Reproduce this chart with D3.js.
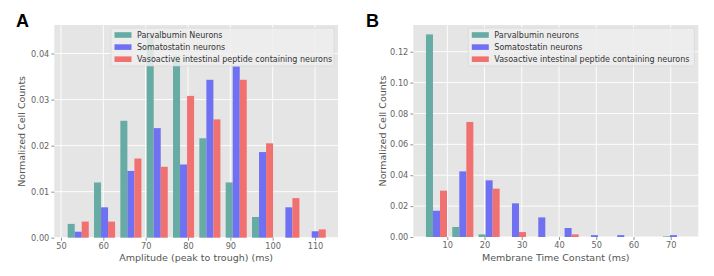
<!DOCTYPE html>
<html>
<head>
<meta charset="utf-8">
<script src="https://cdn.jsdelivr.net/npm/d3@7"></script>
<style>
  body { margin: 0; background: #fff; }
  svg { display: block; }
</style>
</head>
<body>
<div id="chartContainer"></div>
<script>
// Series names and colours
const seriesA = ["Parvalbumin Neurons", "Somatostatin neurons", "Vasoactive intestinal peptide containing neurons"];
const seriesB = ["Parvalbumin neurons", "Somatostatin neurons", "Vasoactive intestinal peptide containing neurons"];
const colors = ["#66aba4", "#7070f2", "#f17171"];

// Panel A: amplitude histogram (bin left edges, bin width, counts per series)
const binsA = [50.96, 57.18, 63.40, 69.62, 75.84, 82.06, 88.28, 94.50, 100.72, 106.94];
const binWidthA = 6.22;
const pvA  = [0.0030, 0.0120, 0.0254, 0.0440, 0.0395, 0.0216, 0.0120, 0.0045, 0, 0];
const sstA = [0.0013, 0.0066, 0.0145, 0.0238, 0.0159, 0.0343, 0.0372, 0.0186, 0.0066, 0.0014];
const vipA = [0.0035, 0.0035, 0.0172, 0.0154, 0.0308, 0.0257, 0.0343, 0.0205, 0.0086, 0.0018];
const xTicksA = [50, 60, 70, 80, 90, 100, 110];
const yTicksA = [0, 0.01, 0.02, 0.03, 0.04];

// Panel B: membrane time constant histogram
const binsB = [3.56, 10.63, 17.70, 24.77, 31.84, 38.91, 45.98, 53.05, 60.12, 67.19];
const binWidthB = 7.07;
const pvB  = [0.1312, 0.0065, 0.0017, 0, 0, 0, 0, 0, 0, 0.0004];
const sstB = [0.0170, 0.0425, 0.0367, 0.0218, 0.0127, 0.0058, 0.0012, 0.0012, 0, 0.0012];
const vipB = [0.0300, 0.0745, 0.0313, 0.0032, 0, 0.0017, 0, 0, 0, 0];
const xTicksB = [10, 20, 30, 40, 50, 60, 70];
const yTicksB = [0, 0.02, 0.04, 0.06, 0.08, 0.10, 0.12];

const width = 714;
const height = 276;

const svg = d3.select("#chartContainer").append("svg")
    .attr("width", width)
    .attr("height", height)
    .style("font-family", "'DejaVu Sans', sans-serif");

function drawPanel(p) {
    const x = d3.scaleLinear().domain(p.xDomain).range([p.left, p.right]);
    const y = d3.scaleLinear().domain(p.yDomain).range([p.bottom, p.top]);
    const g = svg.append("g");

    // background
    g.append("rect")
        .attr("x", p.left).attr("y", p.top)
        .attr("width", p.right - p.left).attr("height", p.bottom - p.top)
        .attr("fill", "#e5e5e5");

    // grid
    g.append("g").selectAll("line").data(p.xTicks).join("line")
        .attr("x1", d => x(d)).attr("x2", d => x(d))
        .attr("y1", p.top).attr("y2", p.bottom)
        .attr("stroke", "#fff").attr("stroke-width", 0.9);
    g.append("g").selectAll("line").data(p.yTicks).join("line")
        .attr("x1", p.left).attr("x2", p.right)
        .attr("y1", d => y(d)).attr("y2", d => y(d))
        .attr("stroke", "#fff").attr("stroke-width", 0.9);

    // bars: matplotlib style grouped histogram (rwidth 0.8 split among 3)
    const barW = 0.8 * p.binWidth / 3;
    p.series.forEach((vals, si) => {
        g.append("g").selectAll("rect").data(vals).join("rect")
            .attr("x", (d, i) => x(p.bins[i] + 0.1 * p.binWidth + si * barW))
            .attr("width", (d, i) => x(p.bins[i] + barW) - x(p.bins[i]))
            .attr("y", d => y(d))
            .attr("height", d => y(0) - y(d))
            .attr("fill", colors[si]);
    });

    // axes
    const xAxis = d3.axisBottom(x).tickValues(p.xTicks).tickSize(3).tickPadding(2)
        .tickFormat(d3.format("d"));
    const yAxis = d3.axisLeft(y).tickValues(p.yTicks).tickSize(3).tickPadding(2)
        .tickFormat(p.yFormat);
    const gx = g.append("g").attr("transform", `translate(0,${p.bottom})`).call(xAxis);
    const gy = g.append("g").attr("transform", `translate(${p.left},0)`).call(yAxis);
    [gx, gy].forEach(a => {
        a.select(".domain").remove();
        a.selectAll("line").attr("stroke", "#666").attr("stroke-width", 0.7);
        a.selectAll("text").attr("fill", "#666").style("font-size", "8.2px")
            .style("font-family", "'DejaVu Sans', sans-serif");
    });

    // axis labels
    g.append("text")
        .attr("x", (p.left + p.right) / 2).attr("y", 261)
        .attr("text-anchor", "middle").attr("fill", "#555")
        .style("font-size", "9.5px")
        .text(p.xLabel);
    g.append("text")
        .attr("transform", `translate(${p.yLabelX},${(p.top + p.bottom) / 2}) rotate(-90)`)
        .attr("text-anchor", "middle").attr("fill", "#555")
        .style("font-size", "9.5px")
        .text("Normalized Cell Counts");

    // legend
    const lg = g.append("g");
    lg.append("rect")
        .attr("x", p.legendX).attr("y", 28)
        .attr("width", p.legendW).attr("height", 38)
        .attr("fill", "#eeeeee").attr("fill-opacity", 0.85)
        .attr("stroke", "#d4d4d4").attr("stroke-width", 0.6).attr("rx", 1.5);
    p.names.forEach((name, i) => {
        const cy = 35 + i * 12.1;
        lg.append("rect")
            .attr("x", p.legendX + 3.5).attr("y", cy - 2.8)
            .attr("width", 17).attr("height", 5.6)
            .attr("fill", colors[i]);
        lg.append("text")
            .attr("x", p.legendX + 26).attr("y", cy)
            .attr("dy", "0.35em").attr("fill", "#333")
            .style("font-size", "8px")
            .text(name);
    });

    // panel letter
    svg.append("text")
        .attr("x", p.letterX).attr("y", 27)
        .style("font-family", "'Liberation Sans', Arial, sans-serif")
        .style("font-weight", "bold").style("font-size", "18px")
        .attr("fill", "#000")
        .text(p.letter);
}

drawPanel({
    letter: "A", letterX: 16,
    left: 54.3, right: 338, top: 25, bottom: 237.7,
    xDomain: [48.42, 115.43], yDomain: [0, 0.0462],
    bins: binsA, binWidth: binWidthA, series: [pvA, sstA, vipA],
    xTicks: xTicksA, yTicks: yTicksA, yFormat: d3.format(".2f"),
    xLabel: "Amplitude (peak to trough) (ms)", yLabelX: 25,
    names: seriesA, legendX: 111, legendW: 223
});

drawPanel({
    letter: "B", letterX: 366,
    left: 413.3, right: 698.3, top: 25, bottom: 237,
    xDomain: [0.87, 77.4], yDomain: [0, 0.1373],
    bins: binsB, binWidth: binWidthB, series: [pvB, sstB, vipB],
    xTicks: xTicksB, yTicks: yTicksB, yFormat: d3.format(".2f"),
    xLabel: "Membrane Time Constant (ms)", yLabelX: 386,
    names: seriesB, legendX: 468.3, legendW: 226
});
</script>
</body>
</html>
